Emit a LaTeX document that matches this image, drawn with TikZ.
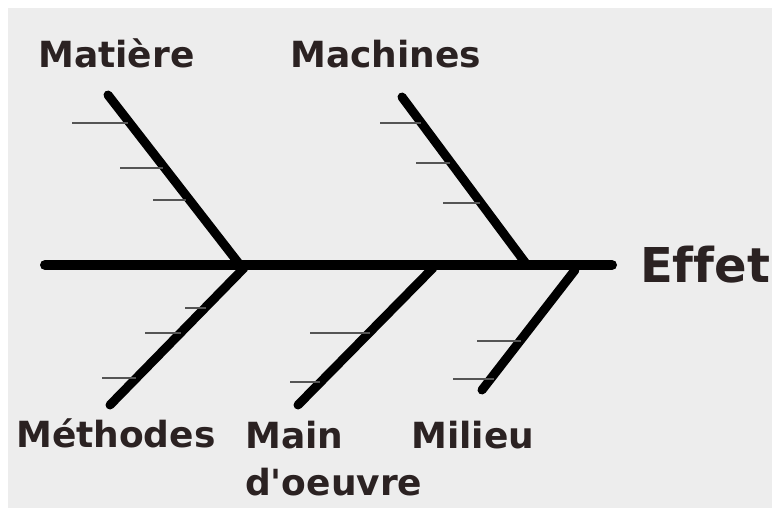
\documentclass[tikz,border=0pt]{standalone}
\usepackage{fontspec}
\setmainfont{DejaVu Sans}[Ligatures={TeXOff,CommonOff}]
\usetikzlibrary{calc}
\definecolor{paper}{HTML}{EDEDED}
\definecolor{ink}{HTML}{2B2222}
\definecolor{ribgray}{HTML}{555555}
\begin{document}
\begin{tikzpicture}[x=1pt,y=-1pt,
  spine/.style={line width=10pt,line cap=round,black},
  bone/.style={line width=9pt,line cap=round,black},
  rib/.style={line width=1.4pt,ribgray},
  cause/.style={inner sep=0pt,anchor=base west,text=ink,font=\bfseries\fontsize{36}{47}\selectfont,align=left},
  effect/.style={inner sep=0pt,anchor=base west,text=ink,font=\bfseries\fontsize{48}{56}\selectfont}]
  % paper
  \fill[white] (0,0) rectangle (780,516);
  \fill[paper] (8,8) rectangle (772,508);
  \useasboundingbox (0,0) rectangle (780,516);

  % main spine
  \coordinate (tail) at (45,265);
  \coordinate (head) at (612,265);
  \draw[spine] (tail) -- (head);
  \node[effect] (effet) at (640,282) {Effet};

  % upper bones
  \coordinate (mat-top) at (108,95);
  \coordinate (mat-foot) at (240,265);
  \coordinate (mac-top) at (402,97);
  \coordinate (mac-foot) at (527,265);
  \draw[bone] (mat-top) -- (mat-foot);
  \draw[bone] (mac-top) -- (mac-foot);

  % lower bones
  \coordinate (met-foot) at (244,268);
  \coordinate (met-end) at (110,405);
  \coordinate (mo-foot) at (433,268);
  \coordinate (mo-end) at (298,405);
  \coordinate (mil-foot) at (575,270);
  \coordinate (mil-end) at (482,390);
  \draw[bone] (met-foot) -- (met-end);
  \draw[bone] (mo-foot) -- (mo-end);
  \draw[bone] (mil-foot) -- (mil-end);

  % ribs on Matiere
  \coordinate (r1a) at (72,123);  \coordinate (r1b) at (128,123);
  \coordinate (r2a) at (120,168); \coordinate (r2b) at (163,168);
  \coordinate (r3a) at (153,200); \coordinate (r3b) at (186,200);
  \draw[rib] (r1a) -- (r1b); \draw[rib] (r2a) -- (r2b); \draw[rib] (r3a) -- (r3b);
  % ribs on Machines
  \coordinate (r4a) at (380,123); \coordinate (r4b) at (421,123);
  \coordinate (r5a) at (416,163); \coordinate (r5b) at (450,163);
  \coordinate (r6a) at (443,203); \coordinate (r6b) at (480,203);
  \draw[rib] (r4a) -- (r4b); \draw[rib] (r5a) -- (r5b); \draw[rib] (r6a) -- (r6b);
  % ribs on Methodes
  \coordinate (r7a) at (185,308); \coordinate (r7b) at (206,308);
  \coordinate (r8a) at (145,333); \coordinate (r8b) at (181,333);
  \coordinate (r9a) at (102,378); \coordinate (r9b) at (136,378);
  \draw[rib] (r7a) -- (r7b); \draw[rib] (r8a) -- (r8b); \draw[rib] (r9a) -- (r9b);
  % ribs on Main d'oeuvre
  \coordinate (r10a) at (310,333); \coordinate (r10b) at (370,333);
  \coordinate (r11a) at (290,382); \coordinate (r11b) at (320,382);
  \draw[rib] (r10a) -- (r10b); \draw[rib] (r11a) -- (r11b);
  % ribs on Milieu
  \coordinate (r12a) at (477,341); \coordinate (r12b) at (521,341);
  \coordinate (r13a) at (453,379); \coordinate (r13b) at (494,379);
  \draw[rib] (r12a) -- (r12b); \draw[rib] (r13a) -- (r13b);

  % cause labels (a two-line node sits on the baseline of its last line)
  \node[cause] (matiere) at (38,68) {Matière};
  \node[cause] (machines) at (290,68) {Machines};
  \node[cause] (methodes) at (16,447) {Méthodes};
  \node[cause] (main) at (245,495) {Main\\d'oeuvre};
  \node[cause] (milieu) at (411,448) {Milieu};
\end{tikzpicture}
\end{document}
